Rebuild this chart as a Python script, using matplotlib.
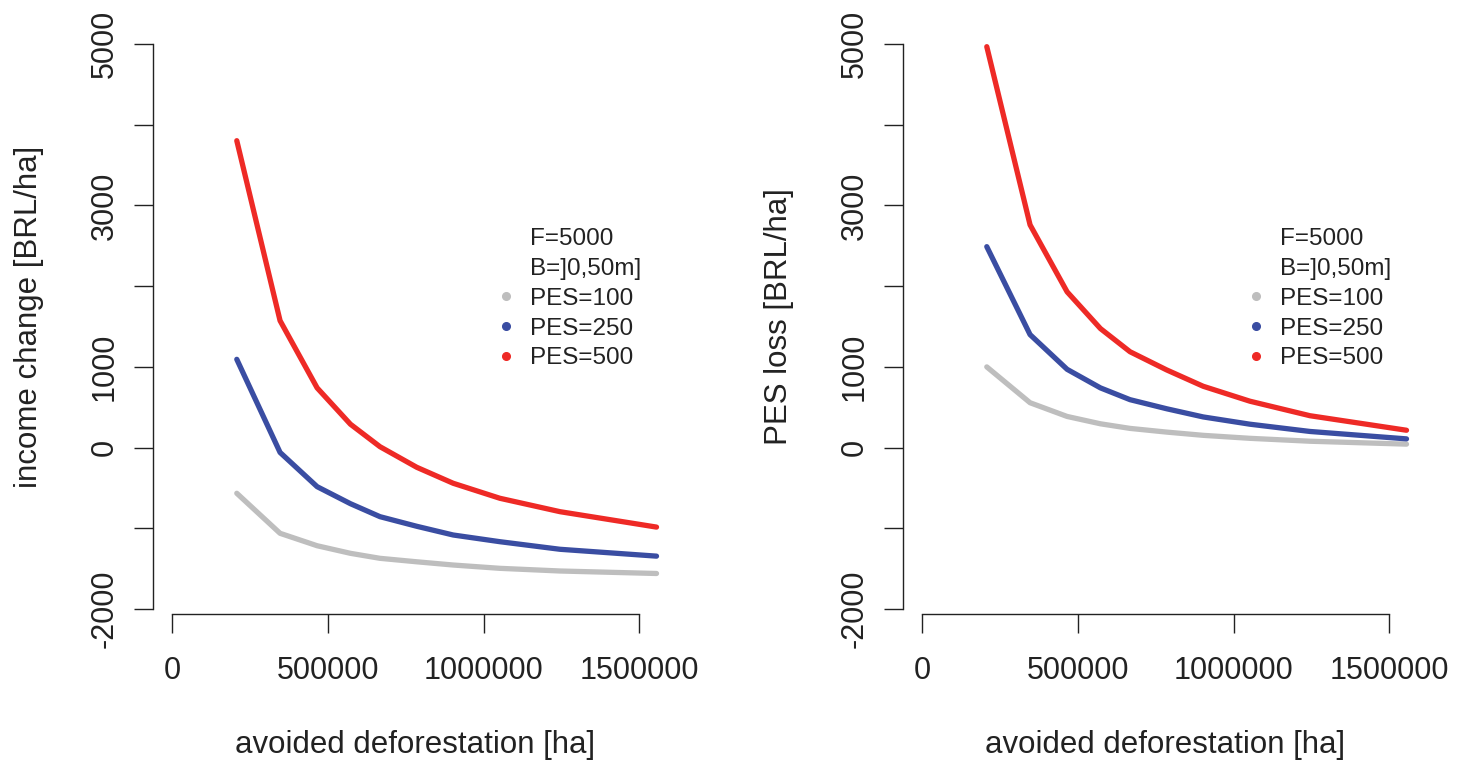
import matplotlib
matplotlib.use("Agg")
import matplotlib.pyplot as plt
from matplotlib.lines import Line2D

plt.rcParams['font.family'] = ['Liberation Sans', 'DejaVu Sans']

# avoided deforestation [ha]
avoided = [207000, 346000, 465000, 572000, 667000, 785000, 902000, 1052000, 1245000, 1555000]

# income change [BRL/ha]
income_100 = [-566, -1062, -1216, -1310, -1372, -1415, -1455, -1496, -1529, -1560]
income_250 = [1094, -60, -484, -695, -856, -975, -1083, -1166, -1260, -1345]
income_500 = [3803, 1573, 740, 290, 11, -244, -442, -628, -794, -985]

# PES loss [BRL/ha]
loss_100 = [1000, 556, 386, 295, 238, 192, 152, 115, 79, 43]
loss_250 = [2490, 1400, 970, 740, 594, 481, 380, 290, 200, 108]
loss_500 = [4968, 2760, 1930, 1475, 1188, 962, 760, 575, 395, 215]

pes_labels = ["PES=100", "PES=250", "PES=500"]
pes_colors = ["#BEBEBE", "#3A4DA2", "#EE2A26"]
info_labels = ["F=5000", "B=]0,50m]"]

xticks = [0, 500000, 1000000, 1500000]
yticks = [-2000, -1000, 0, 1000, 2000, 3000, 4000, 5000]
ytick_labels = ["-2000", "", "0", "1000", "", "3000", "", "5000"]

W, H = 1468, 765
fig = plt.figure(figsize=(W / 100, H / 100), dpi=100)

panels = [
    ("income change [BRL/ha]", [income_100, income_250, income_500]),
    ("PES loss [BRL/ha]", [loss_100, loss_250, loss_500]),
]

for k, (ylab, series) in enumerate(panels):
    shift = 750 * k
    left_px, right_px = 152.9 + shift, 677.5 + shift
    top_px, bot_px = 21.5, 631.6
    ax = fig.add_axes([left_px / W, 1 - bot_px / H,
                       (right_px - left_px) / W, (bot_px - top_px) / H])
    for vals, col in zip(series, pes_colors):
        ax.plot(avoided, vals, color=col, lw=3.8, solid_capstyle='round',
                solid_joinstyle='round')
    ax.set_xlim(-62400, 1622400)
    ax.set_ylim(-2280, 5280)

    for s in ['top', 'right']:
        ax.spines[s].set_visible(False)
    ax.spines['bottom'].set_position(('data', -2062))
    ax.spines['left'].set_bounds(-2000, 5000)
    ax.spines['bottom'].set_bounds(0, 1500000)
    for s in ['left', 'bottom']:
        ax.spines[s].set_linewidth(1.0)
        ax.spines[s].set_color('#222222')

    ax.set_xticks(xticks)
    ax.set_xticklabels([str(v) for v in xticks])
    ax.set_yticks(yticks)
    ax.set_yticklabels(ytick_labels, rotation=90, va='center')
    ax.tick_params(axis='both', direction='out', length=14, width=1.0,
                   color='#222222', labelsize=22, labelcolor='#222222')
    ax.tick_params(axis='x', pad=16.5)
    ax.tick_params(axis='y', pad=10)

    ax.set_xlabel("avoided deforestation [ha]", fontsize=22.5, color='#222222')
    ax.xaxis.set_label_coords(0.5, (bot_px - 745) / (bot_px - top_px))
    ax.xaxis.label.set_va('center')
    ax.set_ylabel(ylab, fontsize=22.5, color='#222222')
    ax.yaxis.set_label_coords((29 - 152.9) / (right_px - left_px),
                              (bot_px - 317) / (bot_px - top_px))
    ax.yaxis.label.set_va('center')

    handles = [Line2D([], [], linestyle='none') for _ in info_labels]
    handles += [Line2D([], [], linestyle='none', marker='o', markersize=5.5,
                       color=c) for c in pes_colors]
    ax.legend(handles, info_labels + pes_labels, loc='upper left',
              bbox_to_anchor=((484.3 + shift) / W, 1 - 216 / H),
              bbox_transform=fig.transFigure, frameon=False, borderpad=0,
              handlelength=0.8, handletextpad=0.59, labelspacing=0.32,
              prop={'size': 17.5}, labelcolor='#222222')

fig.savefig("out.png", dpi=100)
